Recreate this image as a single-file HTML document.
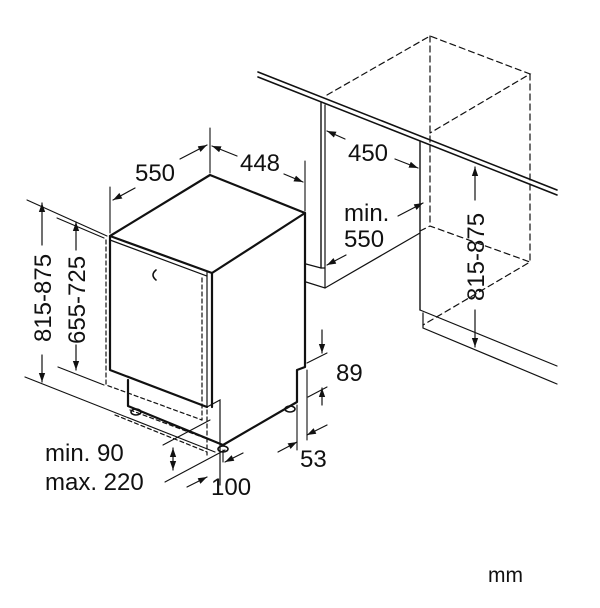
<!DOCTYPE html>
<html><head><meta charset="utf-8"><style>
html,body{margin:0;padding:0;background:#fff}
svg{display:block}
text{font-family:"Liberation Sans",sans-serif;fill:#111}
</style></head><body>
<svg width="600" height="608" viewBox="0 0 600 608" xmlns="http://www.w3.org/2000/svg">
<defs>
<marker id="a" viewBox="0 0 10 10" refX="10" refY="5" markerWidth="9" markerHeight="9" orient="auto-start-reverse" markerUnits="userSpaceOnUse"><path d="M0,1.5 L10,5 L0,8.5 z" fill="#111"/></marker>
</defs>
<g stroke="#111" fill="none" stroke-linecap="round">
<line x1="258" y1="72" x2="557" y2="190" stroke-width="1.6"/>
<line x1="258" y1="77" x2="557" y2="195" stroke-width="1.6"/>
<line x1="321" y1="103" x2="321" y2="268" stroke-width="1.4"/>
<line x1="325" y1="105" x2="325" y2="288" stroke-width="1.2"/>
<polyline points="306,264 321,268 325,268" stroke-width="1.2"/>
<polyline points="306,282 325,288 420,233" stroke-width="1.2"/>
<line x1="420" y1="142" x2="420" y2="310" stroke-width="1.4"/>
<polyline points="420,310 557,366" stroke-width="1.2"/>
<polyline points="423,313 423,328 557,384" stroke-width="1.2"/>
<g stroke-dasharray="6,4" stroke-width="1.2">
<polyline points="327,95 430,36 530,74 430,133"/>
<line x1="430" y1="36" x2="430" y2="226"/>
<line x1="530" y1="74" x2="530" y2="262"/>
<polyline points="420,231 430,226 530,262 423,325"/>
</g>
<g stroke-width="2.2" stroke-linejoin="round">
<polyline points="110,236 210,175 305,213 212,273 110,236"/>
<line x1="212" y1="273" x2="212" y2="407"/>
<polyline points="305,213 305,367 297,370 297,402 223,445 128,406 128,380"/>
<polyline points="110,236 110,370 207,407"/>
</g>
<line x1="207" y1="272" x2="207" y2="407" stroke-width="1.2"/>
<line x1="110" y1="240" x2="207" y2="276" stroke-width="1.2"/>
<polyline points="207,407 220,400 220,485" stroke-width="1.2"/>
<path d="M156,270 q-6,5 0,10" stroke-width="1.6"/>
<g stroke-dasharray="4,3" stroke-width="1.2">
<polyline points="106,240 106,385 202,420"/>
<line x1="202" y1="278" x2="202" y2="420"/>
<line x1="207" y1="410" x2="207" y2="455"/>
<line x1="115" y1="415" x2="207" y2="452"/>
<line x1="130" y1="410" x2="210" y2="440"/>
</g>
<ellipse cx="136" cy="412" rx="5" ry="3" stroke-width="1.6"/>
<ellipse cx="223" cy="449" rx="5" ry="3" stroke-width="1.6"/>
<ellipse cx="290" cy="409" rx="5" ry="3" stroke-width="1.6"/>
<g stroke-width="1.1">
<line x1="27" y1="200" x2="107" y2="236"/>
<line x1="25" y1="377" x2="215" y2="452"/>
<line x1="57" y1="218" x2="104" y2="238"/>
<line x1="58" y1="367" x2="104" y2="385"/>
<line x1="110" y1="187" x2="110" y2="233"/>
<line x1="210" y1="128" x2="210" y2="173"/>
<line x1="305" y1="161" x2="305" y2="211"/>
<line x1="307" y1="363" x2="327" y2="353"/>
<line x1="308" y1="397" x2="327" y2="387"/>
<line x1="297" y1="405" x2="297" y2="450"/>
<line x1="307" y1="370" x2="307" y2="440"/>
<line x1="223" y1="450" x2="223" y2="462"/>
<line x1="165" y1="482" x2="225" y2="450"/>
<line x1="163" y1="445" x2="210" y2="420"/>
</g>
<g stroke-width="1.2" marker-end="url(#a)">
<line x1="42" y1="245" x2="42" y2="203"/>
<line x1="42" y1="355" x2="42" y2="382"/>
<line x1="76" y1="250" x2="76" y2="222"/>
<line x1="76" y1="345" x2="76" y2="370"/>
<line x1="135" y1="188" x2="113" y2="200"/>
<line x1="180" y1="159" x2="207" y2="145"/>
<line x1="237" y1="156" x2="212" y2="146"/>
<line x1="284" y1="174" x2="303" y2="182"/>
<line x1="345" y1="139" x2="327" y2="131"/>
<line x1="395" y1="159" x2="418" y2="168"/>
<line x1="398" y1="216" x2="423" y2="203"/>
<line x1="346" y1="255" x2="327" y2="265"/>
<line x1="475" y1="200" x2="475" y2="167"/>
<line x1="475" y1="310" x2="475" y2="347"/>
<line x1="322" y1="330" x2="322" y2="353"/>
<line x1="322" y1="405" x2="322" y2="388"/>
<line x1="278" y1="452" x2="297" y2="442"/>
<line x1="327" y1="425" x2="307" y2="435"/>
<line x1="187" y1="487" x2="207" y2="477"/>
<line x1="243" y1="453" x2="225" y2="462"/>
</g>
<line x1="173" y1="448" x2="173" y2="470" stroke-width="1.2" marker-start="url(#a)" marker-end="url(#a)"/>
</g>
<g font-size="24">
<text x="155" y="181" text-anchor="middle">550</text>
<text x="260" y="171" text-anchor="middle">448</text>
<text x="368" y="161" text-anchor="middle">450</text>
<text x="344" y="221">min.</text>
<text x="344" y="247">550</text>
<text x="336" y="381">89</text>
<text x="300" y="467">53</text>
<text x="211" y="495">100</text>
<text x="45" y="461">min. 90</text>
<text x="45" y="490">max. 220</text>
<text transform="translate(51,298) rotate(-90)" text-anchor="middle">815-875</text>
<text transform="translate(85,300) rotate(-90)" text-anchor="middle">655-725</text>
<text transform="translate(484,257) rotate(-90)" text-anchor="middle">815-875</text>
<text x="488" y="582" font-size="21">mm</text>
</g>
</svg>
</body></html>
